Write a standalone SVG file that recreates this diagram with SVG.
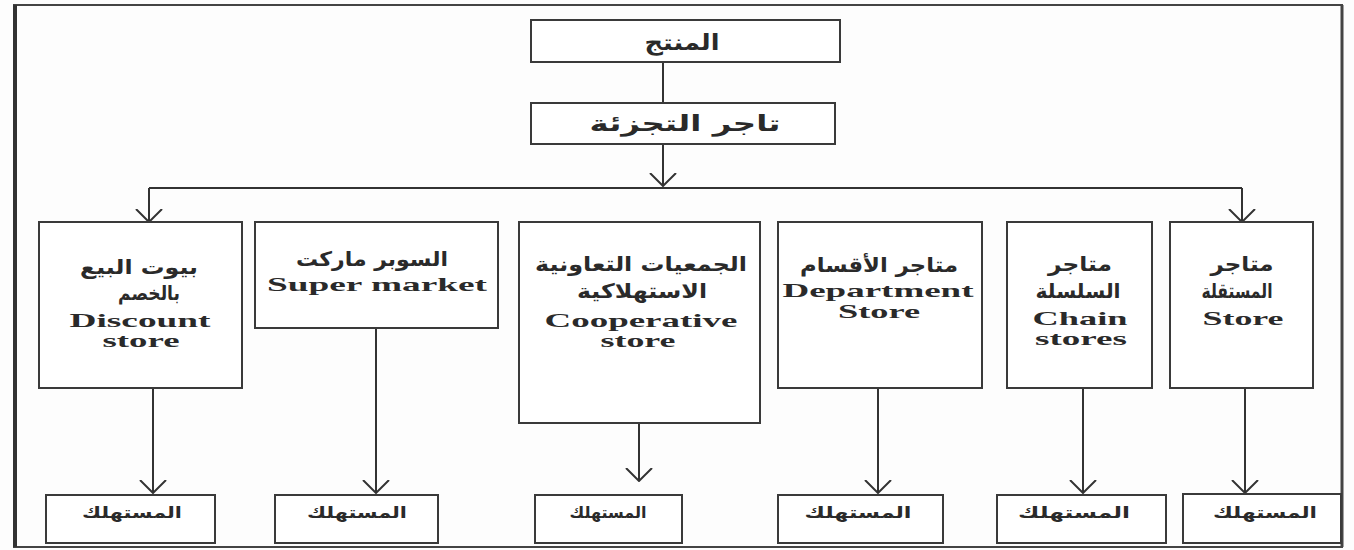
<svg xmlns="http://www.w3.org/2000/svg" width="1354" height="550" viewBox="0 0 1354 550">
<defs>
<marker id="arr" viewBox="0 0 14 28" refX="13" refY="14" markerWidth="14" markerHeight="28" markerUnits="userSpaceOnUse" orient="auto">
<path d="M0,1 L13,14 L0,27" fill="none" stroke="#333" stroke-width="2"/>
</marker>
<style>
.box{fill:#fff;stroke:#3a3a3a;stroke-width:2}
.ln{fill:none;stroke:#333;stroke-width:2}
.ar{font-family:"DejaVu Sans",sans-serif;font-weight:bold;fill:#2a2a2a;text-anchor:middle}
.en{font-family:"Liberation Serif",serif;font-weight:bold;fill:#2a2a2a;text-anchor:middle}
.s20{font-size:20px}
.s16{font-size:16px}
.s22{font-size:22px}
.e19{font-size:19px}
</style>
</defs>
<rect x="0" y="0" width="1354" height="550" fill="#fdfdfd"/>
<g id="frame">
<rect x="14" y="5" width="1328" height="542" fill="none" stroke="#444" stroke-width="2"/>
<line x1="15" y1="5" x2="15" y2="547" stroke="#333" stroke-width="4"/>
<line x1="1342" y1="5" x2="1342" y2="547" stroke="#444" stroke-width="3"/>
</g>
<g id="connectors">
<line class="ln" x1="663" y1="62" x2="663" y2="103"/>
<line class="ln" x1="663" y1="144" x2="663" y2="186" marker-end="url(#arr)"/>
<line class="ln" x1="149" y1="188" x2="1242" y2="188"/>
<line class="ln" x1="149" y1="188" x2="149" y2="222" marker-end="url(#arr)"/>
<line class="ln" x1="1242" y1="188" x2="1242" y2="222" marker-end="url(#arr)"/>
<line class="ln" x1="153" y1="388" x2="153" y2="493" marker-end="url(#arr)"/>
<line class="ln" x1="376" y1="328" x2="376" y2="493" marker-end="url(#arr)"/>
<line class="ln" x1="639" y1="423" x2="639" y2="481" marker-end="url(#arr)"/>
<line class="ln" x1="878" y1="388" x2="878" y2="493" marker-end="url(#arr)"/>
<line class="ln" x1="1083" y1="388" x2="1083" y2="493" marker-end="url(#arr)"/>
<line class="ln" x1="1245" y1="388" x2="1245" y2="493" marker-end="url(#arr)"/>
</g>
<g id="producer">
<rect class="box" x="531" y="20" width="309" height="42"/>
<text class="ar s22" x="682" y="50" textLength="75" lengthAdjust="spacingAndGlyphs">المنتج</text>
</g>
<g id="retailer">
<rect class="box" x="531" y="103" width="304" height="41"/>
<text class="ar s22" x="685" y="131" textLength="191" lengthAdjust="spacingAndGlyphs">تاجر التجزئة</text>
</g>
<g id="discount">
<rect class="box" x="39" y="222" width="203" height="166"/>
<text class="ar s20" x="139" y="274" textLength="118" lengthAdjust="spacingAndGlyphs">بيوت البيع</text>
<text class="ar s20" x="149" y="300" textLength="62" lengthAdjust="spacingAndGlyphs">بالخصم</text>
<text class="en e19" x="140" y="327" textLength="141" lengthAdjust="spacingAndGlyphs">Discount</text>
<text class="en e19" x="141" y="347" textLength="77" lengthAdjust="spacingAndGlyphs">store</text>
</g>
<g id="supermarket">
<rect class="box" x="255" y="222" width="243" height="106"/>
<text class="ar s20" x="372" y="266" textLength="152" lengthAdjust="spacingAndGlyphs">السوبر ماركت</text>
<text class="en e19" x="377" y="291" textLength="220" lengthAdjust="spacingAndGlyphs">Super market</text>
</g>
<g id="cooperative">
<rect class="box" x="519" y="222" width="241" height="201"/>
<text class="ar s20" x="641" y="271" textLength="212" lengthAdjust="spacingAndGlyphs">الجمعيات التعاونية</text>
<text class="ar s20" x="642" y="298" textLength="130" lengthAdjust="spacingAndGlyphs">الاستهلاكية</text>
<text class="en e19" x="641" y="327" textLength="193" lengthAdjust="spacingAndGlyphs">Cooperative</text>
<text class="en e19" x="638" y="347" textLength="75" lengthAdjust="spacingAndGlyphs">store</text>
</g>
<g id="department">
<rect class="box" x="778" y="222" width="204" height="166"/>
<text class="ar s20" x="879" y="272" textLength="158" lengthAdjust="spacingAndGlyphs">متاجر الأقسام</text>
<text class="en e19" x="878" y="297" textLength="191" lengthAdjust="spacingAndGlyphs">Department</text>
<text class="en e19" x="879" y="318" textLength="82" lengthAdjust="spacingAndGlyphs">Store</text>
</g>
<g id="chain">
<rect class="box" x="1007" y="222" width="145" height="166"/>
<text class="ar s20" x="1080" y="271" textLength="64" lengthAdjust="spacingAndGlyphs">متاجر</text>
<text class="ar s20" x="1078" y="298" textLength="85" lengthAdjust="spacingAndGlyphs">السلسلة</text>
<text class="en e19" x="1080" y="325" textLength="95" lengthAdjust="spacingAndGlyphs">Chain</text>
<text class="en e19" x="1081" y="345" textLength="92" lengthAdjust="spacingAndGlyphs">stores</text>
</g>
<g id="independent">
<rect class="box" x="1170" y="222" width="143" height="166"/>
<text class="ar s20" x="1242" y="271" textLength="63" lengthAdjust="spacingAndGlyphs">متاجر</text>
<text class="ar s20" x="1237" y="298" textLength="71" lengthAdjust="spacingAndGlyphs">المستقلة</text>
<text class="en e19" x="1243" y="325" textLength="81" lengthAdjust="spacingAndGlyphs">Store</text>
</g>
<g id="consumer1">
<rect class="box" x="46" y="495" width="169" height="48"/>
<text class="ar s16" x="132" y="518" textLength="100" lengthAdjust="spacingAndGlyphs">المستهلك</text>
</g>
<g id="consumer2">
<rect class="box" x="275" y="495" width="163" height="48"/>
<text class="ar s16" x="357" y="518" textLength="100" lengthAdjust="spacingAndGlyphs">المستهلك</text>
</g>
<g id="consumer3">
<rect class="box" x="535" y="495" width="147" height="48"/>
<text class="ar s16" x="608" y="518" textLength="77" lengthAdjust="spacingAndGlyphs">المستهلك</text>
</g>
<g id="consumer4">
<rect class="box" x="778" y="495" width="165" height="48"/>
<text class="ar s16" x="858" y="518" textLength="107" lengthAdjust="spacingAndGlyphs">المستهلك</text>
</g>
<g id="consumer5">
<rect class="box" x="997" y="495" width="169" height="48"/>
<text class="ar s16" x="1074" y="518" textLength="112" lengthAdjust="spacingAndGlyphs">المستهلك</text>
</g>
<g id="consumer6">
<rect class="box" x="1183" y="494" width="158" height="49"/>
<text class="ar s16" x="1265" y="518" textLength="104" lengthAdjust="spacingAndGlyphs">المستهلك</text>
</g>
</svg>
